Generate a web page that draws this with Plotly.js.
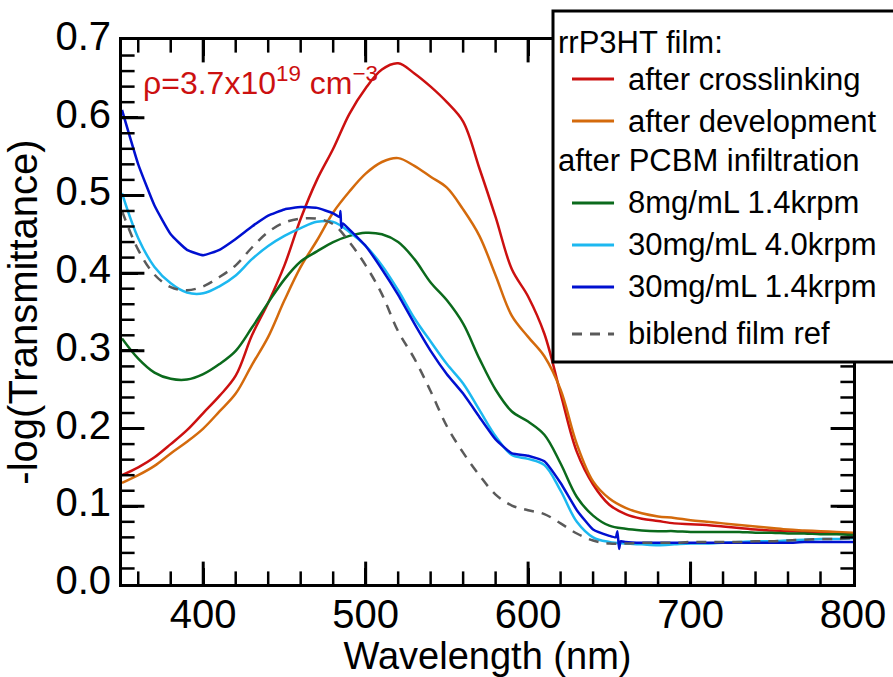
<!DOCTYPE html>
<html>
<head>
<meta charset="utf-8">
<script src="https://cdn.plot.ly/plotly-3.0.1.min.js"></script>
<style>
html,body{margin:0;padding:0;background:#fff;}
#chart{width:893px;height:677px;}
</style>
</head>
<body>
<div id="chart"></div>
<script>
const wl = [350,360,370,380,390,400,410,420,430,440,450,460,470,480,490,500,510,520,530,540,550,560,570,580,590,600,610,620,630,640,650,660,670,680,690,700,710,720,730,740,750,760,770,780,790,800];

const crosslink = [0.140,0.150,0.163,0.180,0.198,0.220,0.242,0.268,0.320,0.362,0.410,0.470,0.520,0.560,0.605,0.638,0.662,0.670,0.657,0.640,0.620,0.595,0.535,0.472,0.405,0.370,0.322,0.245,0.170,0.128,0.102,0.090,0.084,0.081,0.078,0.077,0.076,0.074,0.072,0.070,0.069,0.068,0.067,0.066,0.065,0.064];

const develop = [0.130,0.140,0.152,0.168,0.183,0.200,0.222,0.245,0.282,0.318,0.365,0.408,0.442,0.478,0.505,0.528,0.543,0.548,0.538,0.524,0.510,0.482,0.448,0.397,0.345,0.318,0.293,0.250,0.180,0.132,0.110,0.098,0.091,0.087,0.085,0.082,0.080,0.078,0.076,0.074,0.072,0.070,0.069,0.068,0.067,0.066];

const pcbm8 = [0.316,0.290,0.272,0.264,0.263,0.270,0.283,0.300,0.330,0.362,0.392,0.415,0.428,0.440,0.448,0.452,0.450,0.440,0.418,0.388,0.365,0.335,0.290,0.250,0.222,0.209,0.192,0.155,0.112,0.088,0.075,0.071,0.069,0.068,0.068,0.067,0.067,0.067,0.067,0.066,0.066,0.065,0.065,0.064,0.064,0.063];

const pcbm30fast = [0.503,0.445,0.408,0.387,0.375,0.374,0.383,0.397,0.418,0.435,0.448,0.458,0.466,0.466,0.453,0.435,0.410,0.378,0.342,0.312,0.283,0.258,0.224,0.190,0.166,0.161,0.153,0.120,0.080,0.060,0.054,0.052,0.051,0.050,0.051,0.052,0.052,0.053,0.054,0.055,0.055,0.056,0.057,0.058,0.058,0.059];

const wlSlow = [350,360,370,380,390,400,410,420,430,440,450,460,470,480,484,484.5,485,486,490,500,510,520,530,540,550,560,570,580,590,600,610,620,630,640,650,654,655,656,657,660,670,680,690,700,710,720,730,740,750,760,770,780,790,800];
const pcbm30slow = [0.610,0.540,0.487,0.450,0.430,0.423,0.430,0.444,0.460,0.474,0.482,0.485,0.484,0.477,0.472,0.480,0.458,0.464,0.456,0.435,0.405,0.372,0.335,0.300,0.270,0.245,0.215,0.186,0.168,0.165,0.158,0.130,0.095,0.070,0.062,0.060,0.068,0.045,0.055,0.054,0.053,0.053,0.053,0.053,0.053,0.053,0.053,0.053,0.053,0.053,0.054,0.054,0.054,0.054];

const biblend = [0.480,0.430,0.398,0.382,0.378,0.383,0.395,0.410,0.433,0.453,0.465,0.470,0.470,0.463,0.440,0.410,0.373,0.325,0.290,0.248,0.203,0.169,0.140,0.115,0.101,0.095,0.090,0.078,0.065,0.056,0.052,0.052,0.053,0.053,0.053,0.054,0.054,0.054,0.054,0.055,0.055,0.056,0.057,0.058,0.058,0.059];

const names = ["after crosslinking","after development","8mg/mL 1.4krpm","30mg/mL 4.0krpm","30mg/mL 1.4krpm","biblend film ref"];
const colors = ["#cc1010","#d46a0c","#0b6a1c","#1cb8f0","#0010d0","#5a5a5a"];
const dashes = ["solid","solid","solid","solid","solid","10px,8px"];
const headers = ["rrP3HT film:","after PCBM infiltration"];

// axis ticks
const xMajor = [400,500,600,700,800];
const xMinorStep = 20, yMajorStep = 0.1, yMinorStep = 0.02;
const xRange = [350, 800], yRange = [0, 0.7];

const font = '"Liberation Sans", Arial, sans-serif';

function tr(x, y, i, smooth) {
  return {
    x: x, y: y, type: 'scatter', mode: 'lines', name: names[i], showlegend: false,
    line: {color: colors[i], width: 2.5, dash: dashes[i], shape: 'spline', smoothing: smooth == null ? 1 : smooth}
  };
}

const xMinor = [], yMinor = [], yMajor = [];
for (let v = 360; v < xRange[1]; v += xMinorStep) if (v % 100 !== 0) xMinor.push(v);
for (let k = 1; k < 35; k++) if (k % 5 !== 0) yMinor.push(+(k * yMinorStep).toFixed(2));
for (let k = 1; k < 7; k++) yMajor.push(+(k * yMajorStep).toFixed(1));

// tick marks as line-shaped markers centred on the frame; the plot-area clip keeps the inner half
function tickMarks(vals, onX, len, width) {
  const X = [], Y = [];
  vals.forEach(v => {
    if (onX) { X.push(v, v); Y.push(yRange[0], yRange[1]); }
    else { X.push(xRange[0], xRange[1]); Y.push(v, v); }
  });
  return {x: X, y: Y, type: 'scatter', mode: 'markers', showlegend: false, hoverinfo: 'skip', cliponaxis: true,
          marker: {symbol: onX ? 'line-ns' : 'line-ew', size: 2 * len, color: '#000', line: {color: '#000', width: width}}};
}

const data = [
  tr(wl, crosslink, 0),
  tr(wl, develop, 1),
  tr(wl, pcbm8, 2),
  tr(wl, pcbm30fast, 3),
  tr(wlSlow, pcbm30slow, 4, 0.4),
  tr(wl, biblend, 5),
  tickMarks(xMinor, true, 9, 2.5),
  tickMarks(xMajor.filter(v => v < xRange[1]), true, 16, 3),
  tickMarks(yMinor, false, 9, 2.5),
  tickMarks(yMajor, false, 16, 3)
];

// ---- hand-built legend (box, line samples, labels) in paper coordinates
const legBox = {x0: 0.5896, x1: 1.12, y0: 0.408, y1: 1.0533};
const rowY = [0.9963, 0.9283, 0.8511, 0.7794, 0.7004, 0.6232, 0.5460, 0.4596];
const rowKind = ['h0', 0, 1, 'h1', 2, 3, 4, 5];
const sampleX = [0.6156, 0.6731];
const textX = 0.6895, headX = 0.5937;

const shapes = [{
  type: 'rect', xref: 'paper', yref: 'paper', x0: legBox.x0, x1: legBox.x1, y0: legBox.y0, y1: legBox.y1,
  fillcolor: '#fff', line: {color: '#000', width: 3}, layer: 'above'
}];
const annotations = [{
  xref: 'paper', yref: 'paper', x: 0.026, y: 0.925, xanchor: 'left', yanchor: 'middle',
  text: 'ρ=3.7x10<sup>19</sup> cm<sup>−3</sup>', showarrow: false,
  font: {family: font, size: 32, color: '#cc1010'}
}];
rowKind.forEach((k, r) => {
  if (typeof k === 'string') {
    annotations.push({xref: 'paper', yref: 'paper', x: headX, y: rowY[r], xanchor: 'left', yanchor: 'middle',
      text: headers[k === 'h0' ? 0 : 1], showarrow: false, font: {family: font, size: 31, color: '#000'}});
  } else {
    shapes.push({type: 'line', xref: 'paper', yref: 'paper', x0: sampleX[0], x1: sampleX[1], y0: rowY[r], y1: rowY[r],
      line: {color: colors[k], width: 3, dash: dashes[k]}, layer: 'above'});
    annotations.push({xref: 'paper', yref: 'paper', x: textX, y: rowY[r], xanchor: 'left', yanchor: 'middle',
      text: names[k], showarrow: false, font: {family: font, size: 31, color: '#000'}});
  }
});

const axCommon = {
  showline: true, linecolor: '#000', linewidth: 3, mirror: 'ticks',
  ticks: 'inside', ticklen: 16, tickwidth: 3, tickcolor: '#000',
  showgrid: false, zeroline: false,
  tickfont: {family: font, size: 40, color: '#000'}
};

const layout = {
  width: 893, height: 677,
  margin: {l: 122, r: 40, t: 40, b: 93, pad: 0},
  paper_bgcolor: '#fff', plot_bgcolor: '#fff',
  showlegend: false,
  xaxis: Object.assign({}, axCommon, {
    range: xRange, tickmode: 'array', tickvals: xMajor, ticktext: xMajor.map(String),
    ticklabelstandoff: -7,
    title: {text: 'Wavelength (nm)', font: {family: font, size: 38, color: '#000'}, standoff: 11}
  }),
  yaxis: Object.assign({}, axCommon, {
    range: yRange, tickmode: 'linear', tick0: 0, dtick: yMajorStep, tickformat: '.1f',
    ticklabelshift: -4,
    title: {text: '-log(Transmittance)', font: {family: font, size: 40, color: '#000'}, standoff: 6}
  }),
  shapes: shapes,
  annotations: annotations
};

Plotly.newPlot('chart', data, layout, {displayModeBar: false});
</script>
</body>
</html>
